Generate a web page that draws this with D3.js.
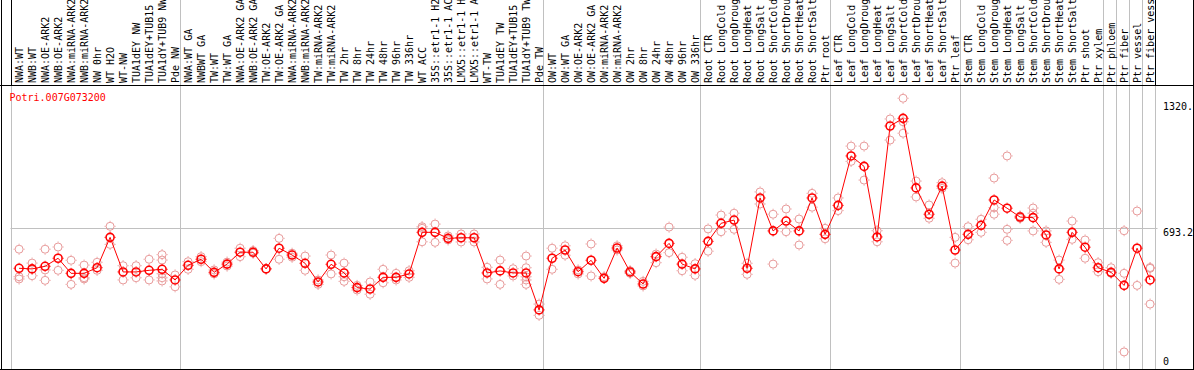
<!DOCTYPE html>
<html>
<head>
<meta charset="utf-8">
<title>Potri.007G073200</title>
<script src="https://d3js.org/d3.v7.min.js"></script>
<style>
  body { margin: 0; background: #fff; }
  svg { display: block; }
  text { font-family: "DejaVu Sans Mono", monospace; font-size: 10px; }
</style>
</head>
<body>
<svg id="chart" width="1194" height="370"></svg>
<script>
const geneName = "Potri.007G073200";

const samples = [
  "NWA:WT", "NWB:WT", "NWA:OE-ARK2", "NWB:OE-ARK2", "NWA:miRNA-ARK2", "NWB:miRNA-ARK2",
  "NW 0hr", "WT H2O", "WT-NW", "TUA1dEY NW", "TUA1dEY+TUB15 NW", "TUA1dY+TUB9 NW", "Pde NW",
  "NWA:WT GA", "NWBWT GA", "TW:WT", "TW:WT GA", "NWA:OE-ARK2 GA", "NWB:OE-ARK2 GA",
  "TW:OE-ARK2", "TW:OE-ARK2 GA", "NWA:miRNA-ARK2 GA", "NWB:miRNA-ARK2 GA", "TW:miRNA-ARK2",
  "TW:miRNA-ARK2 GA", "TW 2hr", "TW 8hr", "TW 24hr", "TW 48hr", "TW 96hr", "TW 336hr",
  "WT ACC", "35S::etr1-1 H2O", "35S::etr1-1 ACC", "LMX5::etr1-1 H2O", "LMX5::etr1-1 ACC",
  "WT-TW", "TUA1dEY TW", "TUA1dEY+TUB15 TW", "TUA1dY+TUB9 TW", "Pde TW",
  "OW:WT", "OW:WT GA", "OW:OE-ARK2", "OW:OE-ARK2 GA", "OW:miRNA-ARK2", "OW:miRNA-ARK2 GA",
  "OW 2hr", "OW 8hr", "OW 24hr", "OW 48hr", "OW 96hr", "OW 336hr",
  "Root CTR", "Root LongCold", "Root LongDrought", "Root LongHeat", "Root LongSalt",
  "Root ShortCold", "Root ShortDrought", "Root ShortHeat", "Root ShortSalt", "Ptr root",
  "Leaf CTR", "Leaf LongCold", "Leaf LongDrought", "Leaf LongHeat", "Leaf LongSalt",
  "Leaf ShortCold", "Leaf ShortDrought", "Leaf ShortHeat", "Leaf ShortSalt", "Ptr leaf",
  "Stem CTR", "Stem LongCold", "Stem LongDrought", "Stem LongHeat", "Stem LongSalt",
  "Stem ShortCold", "Stem ShortDrought", "Stem ShortHeat", "Stem ShortSalt", "Ptr shoot",
  "Ptr xylem", "Ptr phloem", "Ptr fiber", "Ptr vessel", "Ptr fiber vessel"
];

// index where each sample group ends (vertical separators)
const groupBreaks = [0, 13, 41, 53, 63, 73, 84, 85, 86, 87, 88];

const means = [
  493, 490, 503, 543, 468, 468, 496, 647, 475, 475, 483, 488, 435,
  508, 538, 473, 514, 573, 573, 490, 593, 559, 518, 425, 513, 470, 397, 390, 448, 448, 465,
  672, 672, 642, 645, 645, 470, 480, 470, 470, 286,
  543, 584, 476, 533, 443, 594, 475, 415, 551, 617, 514, 490,
  627, 717, 733, 493, 843, 679, 728, 679, 843, 662,
  806, 1052, 1000, 649, 1201, 1239, 893, 762, 902, 584,
  662, 707, 833, 792, 748, 745, 659, 490, 672, 598, 496,
  473, 408, 593, 435
];

const replicates = [
  [588, 451, 440], [519, 456, 490], [588, 485, 433], [599, 483], [533, 413],
  [509, 446, 440], [523, 483], [702, 612], [506, 435], [506, 446], [538, 435],
  [561, 534, 466, 446, 430], [460, 401],
  [526, 488], [551, 526], [485, 465], [524, 504], [593, 551], [581, 568], [491],
  [642, 538], [568, 548], [554, 483], [413, 435], [559, 465], [519, 428, 451],
  [408, 385], [425, 364], [488, 421], [468, 435], [481, 448],
  [700, 625, 692], [713, 622], [654, 634], [664, 624], [664, 624], [498, 440],
  [534, 413], [491, 455], [554, 496, 451, 435, 413], [315, 259],
  [593, 488], [605, 558], [485, 465], [614, 455], [451], [605, 584], [481, 468],
  [428, 405], [564, 521], [698, 571], [548, 481], [516, 458],
  [689, 578], [758, 675], [767, 687], [518, 463], [873, 813], [762, 514],
  [788, 675], [738, 609], [866, 797], [692, 640],
  [843, 780], [1101, 1025], [1101, 932], [680, 625], [1236, 1131],
  [1339, 1222, 1165], [927, 848], [808, 742], [919, 891], [647, 519],
  [700, 635], [737, 672], [942, 795, 762], [1052, 687, 632], [753, 742],
  [793, 767, 679], [679, 622], [534, 438], [728, 637], [634, 543], [521, 476],
  [496, 468], [680, 468, 77], [778, 408], [493, 497, 315]
];

const tickValues = [0, 693.2, 1320.4];
const tickLabels = ["0", "693.2", "1320.4"];

const W = 1194, H = 370;
const plotLeft = 10.5, plotRight = 1154.5, plotTop = 85.5, plotBottom = 369.5;

const svg = d3.select("#chart");

const x = d3.scaleLinear().domain([0, samples.length]).range([plotLeft, plotRight]);
const px = i => x(i + 0.66);
const y = d3.scaleLinear().domain([0, 1320.4]).range([367.4, 102]);

// vertical separators: black in label band, grey in plot
svg.append("g").selectAll("line")
  .data(groupBreaks)
  .join("line")
    .attr("x1", d => Math.round(x(d)) + 0.5).attr("x2", d => Math.round(x(d)) + 0.5)
    .attr("y1", plotTop).attr("y2", plotBottom)
    .attr("stroke", "#c0c0c0");
svg.append("g").selectAll("line")
  .data(groupBreaks)
  .join("line")
    .attr("x1", d => Math.round(x(d)) + 0.5).attr("x2", d => Math.round(x(d)) + 0.5)
    .attr("y1", 0).attr("y2", plotTop)
    .attr("stroke", d => (d === 0 || d === samples.length) ? "#000" : "#c0c0c0");

// horizontal grid at middle tick
svg.append("line")
  .attr("x1", plotLeft).attr("x2", plotRight + 3)
  .attr("y1", Math.round(y(693.2)) + 0.5).attr("y2", Math.round(y(693.2)) + 0.5)
  .attr("stroke", "#c0c0c0");

// frame
svg.append("line").attr("x1", 0).attr("x2", W).attr("y1", plotTop).attr("y2", plotTop).attr("stroke", "#000");
svg.append("line").attr("x1", 1.5).attr("x2", 1.5).attr("y1", 0).attr("y2", H).attr("stroke", "#000");
svg.append("line").attr("x1", W - 0.5).attr("x2", W - 0.5).attr("y1", 0).attr("y2", H).attr("stroke", "#000");
svg.append("line").attr("x1", 0).attr("x2", W).attr("y1", plotBottom).attr("y2", plotBottom).attr("stroke", "#000");

// sample labels, rotated
svg.append("g").selectAll("text")
  .data(samples)
  .join("text")
    .attr("transform", (d, i) => `translate(${px(i) + 3.5},83) rotate(-90)`)
    .attr("fill", "#000")
    .text(d => d);

// y tick labels
svg.append("g").selectAll("text")
  .data(tickValues)
  .join("text")
    .attr("x", 1163)
    .attr("y", d => Math.min(y(d) + 7.5, 365))
    .attr("fill", "#000")
    .text((d, i) => tickLabels[i]);

// gene title
svg.append("text")
  .attr("x", 9.5).attr("y", 100.5)
  .attr("fill", "#ff0000")
  .text(geneName);

function marker(g, cx, cy, color, sw) {
  const m = g.append("g").attr("transform", `translate(${cx},${cy})`);
  m.append("circle").attr("r", 4).attr("fill", "none").attr("stroke", color).attr("stroke-width", sw);
  m.append("path")
    .attr("d", "M0,-5.5V-4.5M0,4.5V5.5M-5.5,0H-4.5M4.5,0H5.5")
    .attr("stroke", color).attr("stroke-width", 1);
}

// replicates
const repG = svg.append("g");
replicates.forEach((reps, i) => {
  reps.forEach(v => marker(repG, px(i), y(v), "#e89a9a", 1));
});

// mean line
svg.append("path")
  .datum(means)
  .attr("fill", "none")
  .attr("stroke", "#ff0000")
  .attr("stroke-width", 1)
  .attr("d", d3.line().x((d, i) => px(i)).y(d => y(d)));

const meanG = svg.append("g");
means.forEach((v, i) => marker(meanG, px(i), y(v), "#ff0000", 1.6));
</script>
</body>
</html>
